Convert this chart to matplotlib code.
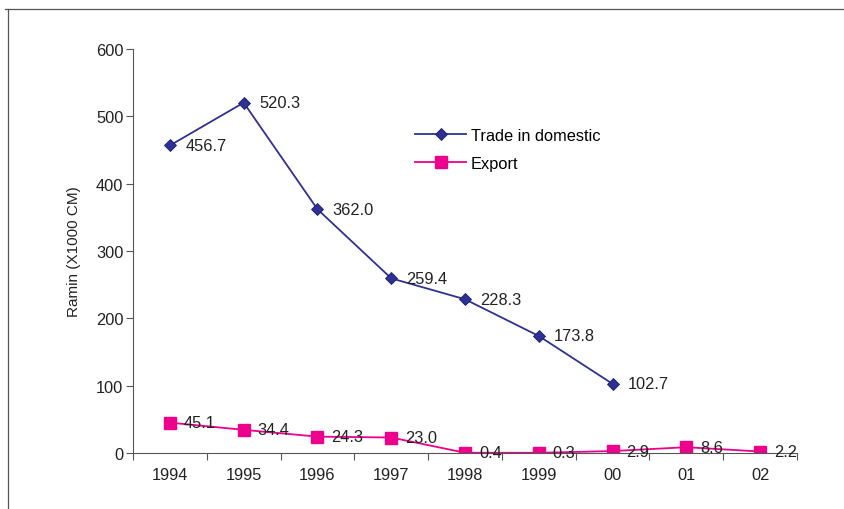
import matplotlib
matplotlib.use("Agg")
import numpy as np
import matplotlib.pyplot as plt
from matplotlib.lines import Line2D

plt.rcParams["font.family"] = ["Liberation Sans", "DejaVu Sans"]

years = ["1994", "1995", "1996", "1997", "1998", "1999", "00", "01", "02"]
domestic = [456.7, 520.3, 362.0, 259.4, 228.3, 173.8, 102.7]
export = [45.1, 34.4, 24.3, 23.0, 0.4, 0.3, 2.9, 8.6, 2.2]

BLUE = "#2E3192"
PINK = "#EC008C"
GREY = "#555555"
FS = 11.8

fig = plt.figure(figsize=(8.44, 5.10), dpi=100)
ax = fig.add_axes([0.1576, 0.1098, 0.7867, 0.7922])

x = np.arange(len(years))
ax.plot(x[:len(domestic)], domestic, color=BLUE, lw=1.3, marker="D", ms=6.5,
        mfc=BLUE, mec="#1B1E6B", mew=0.6, label="Trade in domestic")
ax.plot(x, export, color=PINK, lw=1.3, marker="s", ms=8.5,
        mfc=PINK, mec=PINK, label="Export")

for xi, v in zip(x, domestic):
    ax.annotate(f"{v:.1f}", (xi, v), xytext=(11, 0), textcoords="offset points",
                va="center", ha="left", fontsize=FS, color="#222222")
for xi, v in zip(x, export):
    ax.annotate(f"{v:.1f}", (xi, v), xytext=(10, 0), textcoords="offset points",
                va="center", ha="left", fontsize=FS, color="#222222")

ax.set_xlim(-0.5, len(years) - 0.5)
ax.set_ylim(0, 600)
ax.set_yticks(range(0, 601, 100))
ax.set_xticks(x)
ax.set_xticklabels(years)
ax.set_xticks(np.arange(-0.5, len(years)), minor=True)
ax.tick_params(axis="x", which="major", length=0, pad=10, labelsize=FS, labelcolor="#222222")
ax.tick_params(axis="x", which="minor", length=5, width=0.8, color=GREY, direction="out")
ax.tick_params(axis="y", length=5, width=0.8, color=GREY, pad=2, labelsize=FS, labelcolor="#222222")
ax.set_ylabel("Ramin (X1000 CM)", fontsize=11, labelpad=11, color="#222222")

for s in ["top", "right"]:
    ax.spines[s].set_visible(False)
for s in ["left", "bottom"]:
    ax.spines[s].set_color(GREY)
    ax.spines[s].set_linewidth(0.8)

leg = fig.legend(loc="upper left", bbox_to_anchor=(0.492, 0.748), frameon=False,
                 fontsize=FS, handlelength=3.1, handletextpad=0.3, labelspacing=0.8,
                 borderpad=0, borderaxespad=0)

# outer frame lines
fig.add_artist(Line2D([5 / 844, 1.0], [1 - 10 / 510, 1 - 10 / 510], color=GREY, lw=0.9))
fig.add_artist(Line2D([8 / 844, 8 / 844], [0.0, 1 - 10 / 510], color=GREY, lw=0.9))

fig.savefig("out.png", dpi=100, facecolor="white")
